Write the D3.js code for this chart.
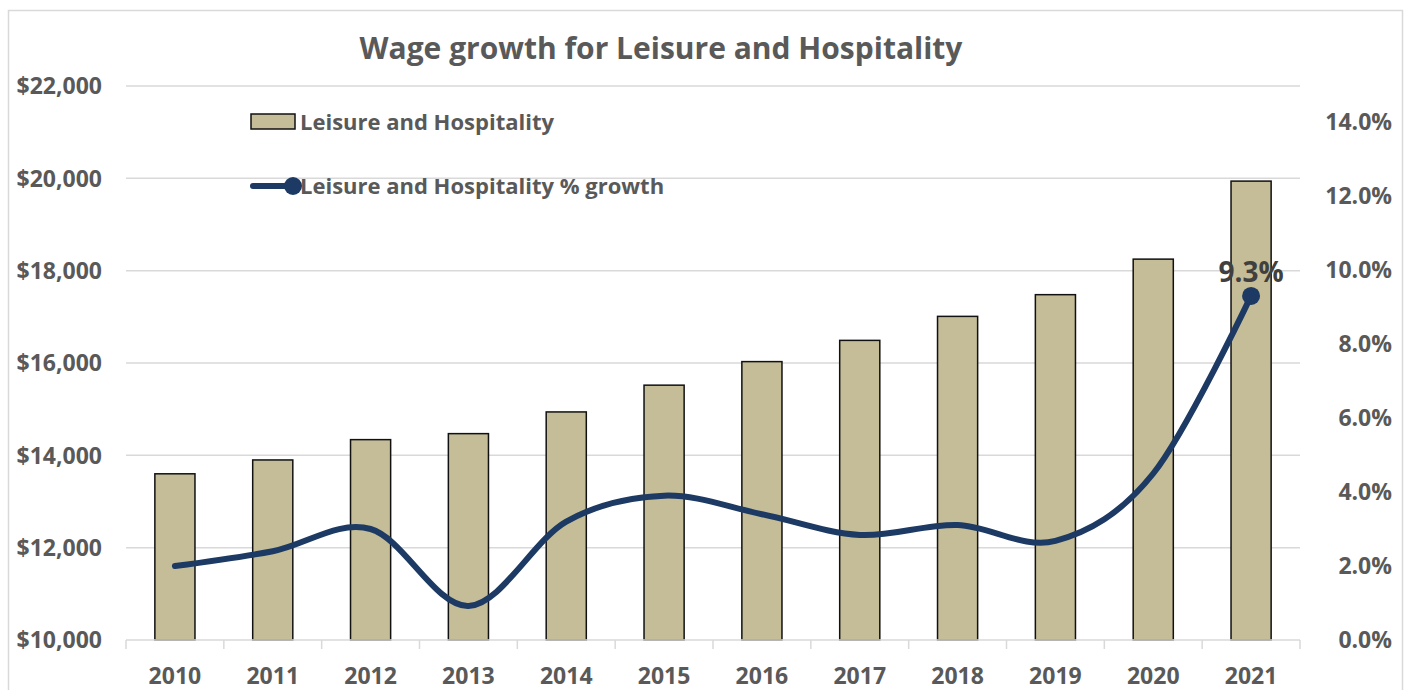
<!DOCTYPE html>
<html>
<head>
<meta charset="utf-8">
<script src="https://cdn.jsdelivr.net/npm/d3@7"></script>
<style>
  html, body { margin: 0; padding: 0; background: #fff; }
  svg { display: block; font-family: "Open Sans", Lato, sans-serif; }
</style>
</head>
<body>
<svg id="chart" width="1406" height="690"></svg>
<script>
// Annual wages and year-over-year growth, Leisure and Hospitality
const years = ["2010", "2011", "2012", "2013", "2014", "2015", "2016", "2017", "2018", "2019", "2020", "2021"];
const wages = [13600, 13900, 14340, 14470, 14940, 15520, 16030, 16490, 17010, 17480, 18250, 19940];
const growth = [0.020, 0.024, 0.030, 0.0092, 0.032, 0.039, 0.034, 0.0284, 0.0311, 0.0268, 0.045, 0.093];
const wageTicks = [10000, 12000, 14000, 16000, 18000, 20000, 22000];
const growthTicks = [0, 0.02, 0.04, 0.06, 0.08, 0.10, 0.12, 0.14];

const chartTitle = "Wage growth for Leisure and Hospitality";
const barName = "Leisure and Hospitality";
const lineName = "Leisure and Hospitality % growth";

const svg = d3.select("#chart");
const textColor = "#595959";
const gridColor = "#d9d9d9";
const barFill = "#c4bd97";
const lineColor = "#1c3a63";

const plot = { left: 126, right: 1300, top: 86, bottom: 640 };

// outer chart frame
svg.append("rect")
  .attr("x", 8.5).attr("y", 10.5)
  .attr("width", 1394).attr("height", 700)
  .attr("fill", "#fff").attr("stroke", gridColor).attr("stroke-width", 1.5);

const x = d3.scaleBand().domain(years).range([plot.left, plot.right]).paddingInner(0).paddingOuter(0);
const yL = d3.scaleLinear().domain([10000, 22000]).range([plot.bottom, plot.top]);
const yR = d3.scaleLinear().domain([0, 0.14]).range([plot.bottom, 122]);

// horizontal gridlines from the wage axis
svg.append("g")
  .selectAll("line")
  .data(wageTicks.slice(1))
  .join("line")
  .attr("x1", plot.left).attr("x2", plot.right)
  .attr("y1", d => yL(d)).attr("y2", d => yL(d))
  .attr("stroke", gridColor).attr("stroke-width", 1.5);

// left axis labels
const fmtDollar = d3.format("$,");
svg.append("g")
  .selectAll("text")
  .data(wageTicks)
  .join("text")
  .attr("x", 102).attr("y", d => yL(d))
  .attr("dy", "0.36em")
  .attr("text-anchor", "end")
  .attr("font-size", 23).attr("font-weight", 700)
  .attr("fill", textColor)
  .text(d => fmtDollar(d));

// right axis labels
const fmtPct = d3.format(".1%");
svg.append("g")
  .selectAll("text")
  .data(growthTicks)
  .join("text")
  .attr("x", 1392).attr("y", d => yR(d))
  .attr("dy", "0.36em")
  .attr("text-anchor", "end")
  .attr("font-size", 23).attr("font-weight", 700)
  .attr("fill", textColor)
  .text(d => fmtPct(d));

// bars
const barW = x.bandwidth() * 0.41;
svg.append("g")
  .selectAll("rect")
  .data(years.map((y, i) => ({ year: y, value: wages[i] })))
  .join("rect")
  .attr("x", d => x(d.year) + (x.bandwidth() - barW) / 2)
  .attr("y", d => yL(d.value))
  .attr("width", barW)
  .attr("height", d => yL(10000) - yL(d.value))
  .attr("fill", barFill)
  .attr("stroke", "#111").attr("stroke-width", 1.5);

// category axis: baseline, tick marks at band edges, labels
const xAxis = svg.append("g");
xAxis.append("line")
  .attr("x1", plot.left).attr("x2", plot.right)
  .attr("y1", plot.bottom).attr("y2", plot.bottom)
  .attr("stroke", gridColor).attr("stroke-width", 1.5);
const edges = years.map(y => x(y)).concat([plot.right]);
xAxis.selectAll("line.tick")
  .data(edges)
  .join("line")
  .attr("class", "tick")
  .attr("x1", d => d).attr("x2", d => d)
  .attr("y1", plot.bottom).attr("y2", plot.bottom + 9)
  .attr("stroke", gridColor).attr("stroke-width", 1.5);
xAxis.selectAll("text")
  .data(years)
  .join("text")
  .attr("x", d => x(d) + x.bandwidth() / 2)
  .attr("y", 684)
  .attr("text-anchor", "middle")
  .attr("font-size", 23).attr("font-weight", 700)
  .attr("fill", textColor)
  .text(d => d);

// smoothed growth line
const pts = years.map((y, i) => [x(y) + x.bandwidth() / 2, yR(growth[i])]);
svg.append("path")
  .attr("d", d3.line().curve(d3.curveCatmullRom.alpha(0))(pts))
  .attr("fill", "none")
  .attr("stroke", lineColor)
  .attr("stroke-width", 6)
  .attr("stroke-linecap", "round");

// marker and label on the latest year
const last = pts[pts.length - 1];
svg.append("circle")
  .attr("cx", last[0]).attr("cy", last[1]).attr("r", 9)
  .attr("fill", lineColor);
svg.append("text")
  .attr("x", last[0]).attr("y", last[1] - 14)
  .attr("text-anchor", "middle")
  .attr("font-size", 28).attr("font-weight", 700)
  .attr("fill", "#404040")
  .text(fmtPct(growth[growth.length - 1]));

// title
svg.append("text")
  .attr("x", 661).attr("y", 59)
  .attr("text-anchor", "middle")
  .attr("font-size", 30).attr("font-weight", 700)
  .attr("fill", textColor)
  .text(chartTitle);

// legend
const lg = svg.append("g");
lg.append("rect")
  .attr("x", 251).attr("y", 114).attr("width", 44).attr("height", 15)
  .attr("fill", barFill).attr("stroke", "#111").attr("stroke-width", 1.5);
lg.append("text")
  .attr("x", 300).attr("y", 130)
  .attr("font-size", 22).attr("font-weight", 700)
  .attr("fill", textColor)
  .text(barName);
lg.append("line")
  .attr("x1", 253).attr("x2", 293).attr("y1", 186).attr("y2", 186)
  .attr("stroke", lineColor).attr("stroke-width", 6).attr("stroke-linecap", "round");
lg.append("circle")
  .attr("cx", 293).attr("cy", 186).attr("r", 9)
  .attr("fill", lineColor);
lg.append("text")
  .attr("x", 300).attr("y", 194)
  .attr("font-size", 22).attr("font-weight", 700)
  .attr("fill", textColor)
  .text(lineName);
</script>
</body>
</html>
